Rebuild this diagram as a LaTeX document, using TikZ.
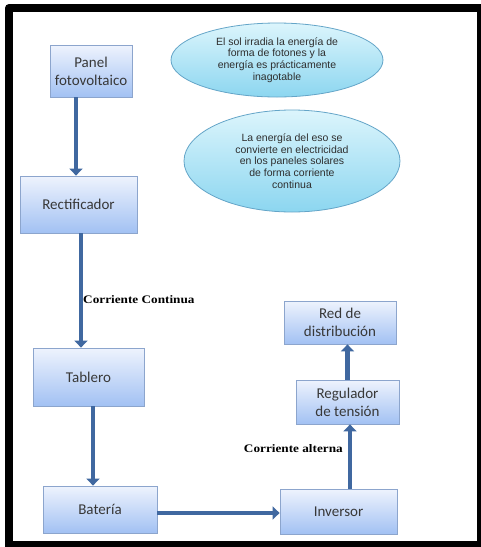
\documentclass[tikz,border=0pt]{standalone}
\usepackage{fontspec}
\setmainfont{Carlito}
\newfontfamily\globofont{Liberation Sans}
\newfontfamily\etiqfont{Liberation Serif}
\usetikzlibrary{arrows.meta,shapes.geometric}
\definecolor{flechaazul}{RGB}{64,104,160}
\definecolor{cajaarriba}{RGB}{238,243,253}
\definecolor{cajaabajo}{RGB}{162,193,243}
\definecolor{cajaborde}{RGB}{140,165,205}
\definecolor{globoarriba}{RGB}{220,245,252}
\definecolor{globoabajo}{RGB}{140,214,240}
\definecolor{globoborde}{RGB}{100,165,200}
\tikzstyle{caja}=[draw=cajaborde, line width=0.8pt, top color=cajaarriba, bottom color=cajaabajo, shape=rectangle, align=center, inner sep=0pt, text=black!78, font=\fontsize{15}{18}\selectfont]
\tikzstyle{globo}=[draw=globoborde, line width=0.8pt, top color=globoarriba, bottom color=globoabajo, shape=ellipse, align=center, inner sep=0pt, text=black!82, font=\globofont\fontsize{10.5}{11.7}\selectfont]
\tikzstyle{flecha}=[draw=flechaazul, line width=4.5pt, -{Triangle[length=7pt,width=13pt]}]
\tikzstyle{etiqueta}=[font=\etiqfont\bfseries\fontsize{11.5}{13}\selectfont, xscale=1.15, inner sep=0pt]

\begin{document}
\begin{tikzpicture}[x=1pt, y=-1pt]
		\useasboundingbox (0,0) rectangle (481,547);
		\fill[white] (0,0) rectangle (481,547);
		\fill[black, rounded corners=4pt] (5,4) rectangle (490,556);
		\fill[white] (13,12) rectangle (477,541);

		\node [style=caja, minimum width=82pt, minimum height=52pt] (1) at (91, 71) {Panel\\fotovoltaico};
		\node [style=caja, minimum width=117pt, minimum height=57pt] (2) at (78.5, 204.5) {Rectificador};
		\node [style=caja, minimum width=111pt, minimum height=58pt] (3) at (88.5, 377) {Tablero};
		\node [style=caja, minimum width=114pt, minimum height=47pt] (4) at (100, 509.5) {Batería};
		\node [style=caja, minimum width=117pt, minimum height=45pt] (5) at (338.5, 511.5) {Inversor};
		\node [style=caja, minimum width=103pt, minimum height=44pt] (6) at (347.5, 402) {Regulador\\de tensión};
		\node [style=caja, minimum width=112pt, minimum height=43pt] (7) at (340, 322.5) {Red de\\distribución};

		\node [style=globo, minimum width=212pt, minimum height=74pt] (10) at (277, 60) {El sol irradia la energía de\\forma de fotones y la\\energía es prácticamente\\inagotable};
		\node [style=globo, minimum width=216pt, minimum height=102pt] (11) at (292, 161) {La energía del eso se\\convierte en electricidad\\en los paneles solares\\de forma corriente\\continua};

		\draw [style=flecha] ([xshift=-15pt]1.south) to ([xshift=-15pt]1.south |- 2.north);
		\draw [style=flecha] ([xshift=2.5pt]2.south) to ([xshift=2.5pt]2.south |- 3.north);
		\draw [style=flecha] ([xshift=4.5pt]3.south) to ([xshift=4.5pt]3.south |- 4.north);
		\draw [style=flecha] ([yshift=-3.5pt]4.east) to ([yshift=-3.5pt]4.east -| 5.west);
		\draw [style=flecha] ([xshift=11.5pt]5.north) to ([xshift=11.5pt]5.north |- 6.south);
		\draw [style=flecha] (6.north) to (6.north |- 7.south);

		\node [style=etiqueta, anchor=west] (20) at (83, 300) {Corriente Continua};
		\node [style=etiqueta, anchor=east] (21) at (343, 449) {Corriente alterna};
	\end{tikzpicture}
\end{document}
